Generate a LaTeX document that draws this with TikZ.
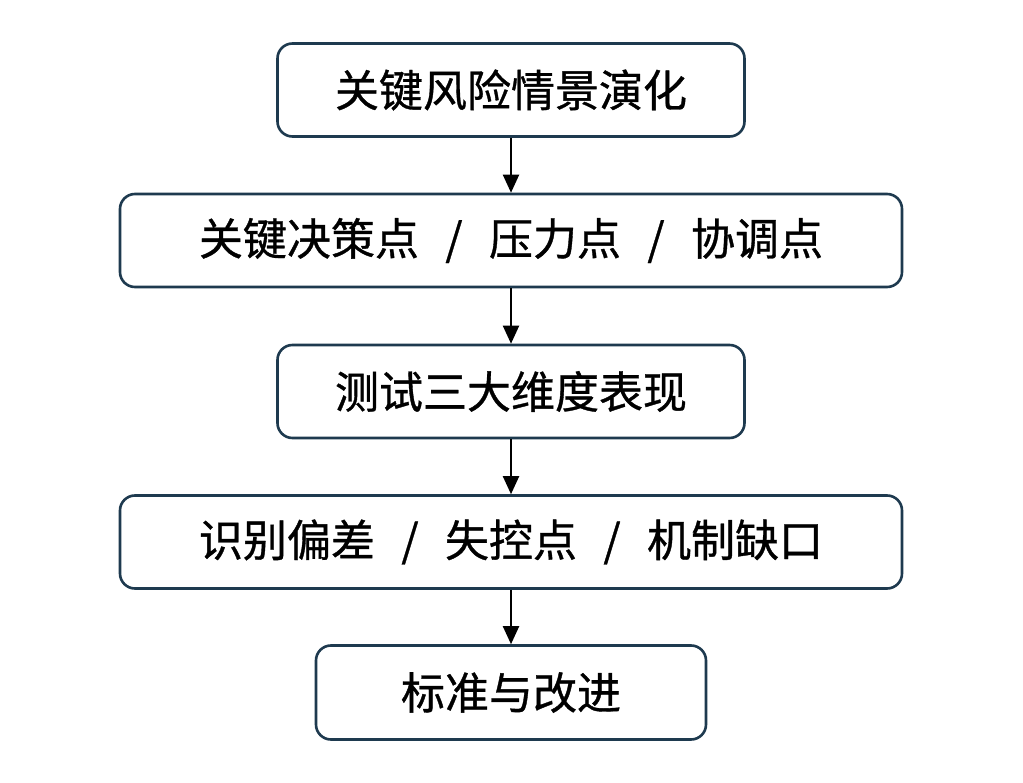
\documentclass[tikz,border=0pt]{standalone}
\usepackage{fontspec}
\newfontfamily\cjk[FakeBold=0.8]{Noto Sans CJK SC}
\usetikzlibrary{arrows.meta}
\definecolor{boxline}{HTML}{1E3A4F}
\newcommand{\gapsl}{\hspace{0.6em}/\hspace{0.6em}}
\newcommand{\lbl}[1]{\raisebox{-3pt}{#1}}
\begin{document}
\begin{tikzpicture}[x=1pt,y=-1pt,
  stepbox/.style={draw=boxline,line width=2.6pt,rounded corners=15pt,fill=white,
    inner sep=0pt,font=\cjk\fontsize{44}{48}\selectfont,text=black},
  arr/.style={draw=black,line width=2pt,-{Triangle[length=18pt,width=16pt]}}]
\useasboundingbox[fill=white] (0,0) rectangle (1023,783);
\node[stepbox,minimum width=467pt,minimum height=93pt] (a) at (511,90) {\lbl{关键风险情景演化}};
\node[stepbox,minimum width=782pt,minimum height=93pt] (b) at (511,240.5) {\lbl{关键决策点\gapsl 压力点\gapsl 协调点}};
\node[stepbox,minimum width=467pt,minimum height=93pt] (c) at (511,391.5) {\lbl{测试三大维度表现}};
\node[stepbox,minimum width=782pt,minimum height=93pt] (d) at (511,542) {\lbl{识别偏差\gapsl 失控点\gapsl 机制缺口}};
\node[stepbox,minimum width=390pt,minimum height=94pt] (e) at (511,692.5) {\lbl{标准与改进}};
\draw[arr] (a.south) -- (b.north);
\draw[arr] (b.south) -- (c.north);
\draw[arr] (c.south) -- (d.north);
\draw[arr] (d.south) -- (e.north);
\end{tikzpicture}
\end{document}
